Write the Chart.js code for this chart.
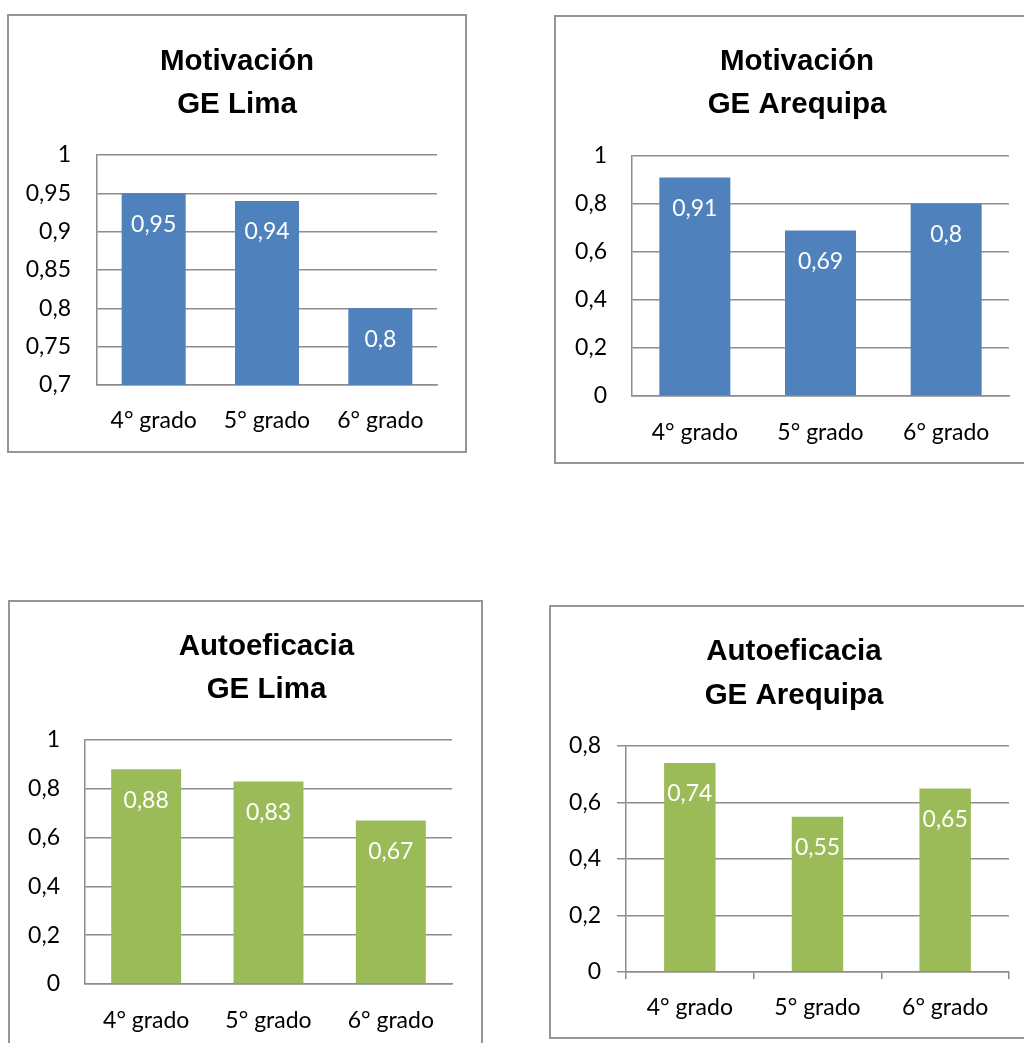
<!DOCTYPE html>
<html><head><meta charset="utf-8">
<script src="https://cdn.jsdelivr.net/npm/chart.js@4"></script>
<style>
html,body{margin:0;padding:0;width:1024px;height:1043px;overflow:hidden;background:#fff;}
.box{position:absolute;border:2px solid #959595;box-sizing:border-box;}
canvas{position:absolute;}
</style></head><body>
<div class="box" style="left:7px;top:14px;width:460px;height:439px"></div>
<div class="box" style="left:554px;top:15px;width:486px;height:449px"></div>
<div class="box" style="left:8px;top:600px;width:475px;height:500px"></div>
<div class="box" style="left:549px;top:605px;width:491px;height:434px"></div>
<canvas id="c1"></canvas>
<canvas id="c2"></canvas>
<canvas id="c3"></canvas>
<canvas id="c4"></canvas>
<script>
const categories = ['4° grado', '5° grado', '6° grado'];
const motivacionLima = [0.95, 0.94, 0.8];
const motivacionArequipa = [0.91, 0.69, 0.8];
const autoeficaciaLima = [0.88, 0.83, 0.67];
const autoeficaciaArequipa = [0.74, 0.55, 0.65];
const titleMotivLima = ['Motivación', 'GE Lima'];
const titleMotivAreq = ['Motivación', 'GE Arequipa'];
const titleAutoLima = ['Autoeficacia', 'GE Lima'];
const titleAutoAreq = ['Autoeficacia', 'GE Arequipa'];

const BLUE = '#4F81BD', GREEN = '#9BBB59', GRID = '#8c8c8c';
const FS = 23;
const TICKFONT = {family: 'Lato, "Open Sans", sans-serif', size: FS, lineHeight: 1.2};
const fmt = v => (Math.round(v * 100) / 100).toString().replace('.', ',');

const labelPlugin = {
  id: 'insideLabels',
  afterLayout(chart, args, opts) {
    const t = chart.titleBlock;
    if (t) {
      const d = opts.titleX - (t.left + t.right) / 2;
      t.left += d; t.right += d;
    }
  },
  afterDatasetsDraw(chart, args, opts) {
    const ctx = chart.ctx;
    ctx.save();
    ctx.fillStyle = '#ffffff';
    ctx.font = FS + 'px Lato, "Open Sans", sans-serif';
    ctx.textAlign = 'center';
    ctx.textBaseline = 'middle';
    chart.data.datasets.forEach((ds, di) => {
      chart.getDatasetMeta(di).data.forEach((bar, i) => {
        ctx.fillText(fmt(ds.data[i]), bar.x, bar.y + opts.offset);
      });
    });
    ctx.restore();
  }
};

function make(id, g) {
  const cv = document.getElementById(id);
  cv.width = g.cw; cv.height = g.ch;
  cv.style.left = g.cx + 'px'; cv.style.top = g.cy + 'px';
  cv.style.width = g.cw + 'px'; cv.style.height = g.ch + 'px';
  new Chart(cv, {
    type: 'bar',
    data: {labels: categories, datasets: [{data: g.data, backgroundColor: g.color, borderWidth: 0,
      categoryPercentage: 1, barPercentage: g.barPct}]},
    plugins: [labelPlugin],
    options: {
      responsive: false, animation: false, devicePixelRatio: 1,
      layout: {padding: {left: 0, top: 0, bottom: 0, right: g.padRight}},
      plugins: {
        legend: {display: false}, tooltip: {enabled: false},
        insideLabels: {offset: 31, titleX: g.tx - g.cx},
        title: {display: true, text: g.title, color: '#000',
          font: {family: '"Liberation Sans", Arial, sans-serif', size: 29.5, weight: 'bold', lineHeight: g.tlh / 29.5},
          padding: {top: g.tpt, bottom: g.tpb}}
      },
      scales: {
        x: {
          afterFit: s => { s.height = g.xh; },
          grid: g.xTicks ? {display: true, drawOnChartArea: false, drawTicks: true, tickLength: 7, color: GRID, lineWidth: 1.5}
                         : {display: false, drawTicks: false},
          border: {display: true, color: GRID, width: 1.5},
          ticks: {color: '#000', font: TICKFONT, padding: g.xpad, maxRotation: 0, autoSkip: false}
        },
        y: {
          min: g.min, max: g.max,
          afterFit: s => { s.width = g.yw; },
          grid: {color: GRID, lineWidth: 1.5, drawTicks: !!g.yTicks, tickLength: g.yTicks || 0},
          border: {display: true, color: GRID, width: 1.5},
          ticks: {color: '#000', font: TICKFONT, padding: g.ypad, stepSize: g.step, callback: v => fmt(v)}
        }
      }
    }
  });
}

make('c1', {cx: 8, cy: 15, cw: 458, ch: 437, tx: 237, data: motivacionLima, color: BLUE, barPct: 0.565,
  title: titleMotivLima, tlh: 43, tpt: 25.5, tpb: 28.5, padRight: 29, yw: 89, xh: 67, xpad: 22, ypad: 26,
  min: 0.7, max: 1, step: 0.05});
make('c2', {cx: 555, cy: 16, cw: 484, ch: 447, tx: 797, data: motivacionArequipa, color: BLUE, barPct: 0.565,
  title: titleMotivAreq, tlh: 43, tpt: 24.5, tpb: 29.5, padRight: 30, yw: 77, xh: 67, xpad: 22.8, ypad: 25,
  min: 0, max: 1, step: 0.2});
make('c3', {cx: 8, cy: 600, cw: 474, ch: 443, tx: 266.5, data: autoeficaciaLima, color: GREEN, barPct: 0.572,
  title: titleAutoLima, tlh: 43, tpt: 25.5, tpb: 28.5, padRight: 30, yw: 77, xh: 59, xpad: 22.8, ypad: 25,
  min: 0, max: 1, step: 0.2});
make('c4', {cx: 550, cy: 606, cw: 488, ch: 432, tx: 794, data: autoeficaciaArequipa, color: GREEN, barPct: 0.403,
  title: titleAutoAreq, tlh: 44, tpt: 24, tpb: 28, padRight: 29, yw: 76, xh: 66, xpad: 15, ypad: 16,
  yTicks: 9, xTicks: true, min: 0, max: 0.8, step: 0.2});
</script>
</body></html>
